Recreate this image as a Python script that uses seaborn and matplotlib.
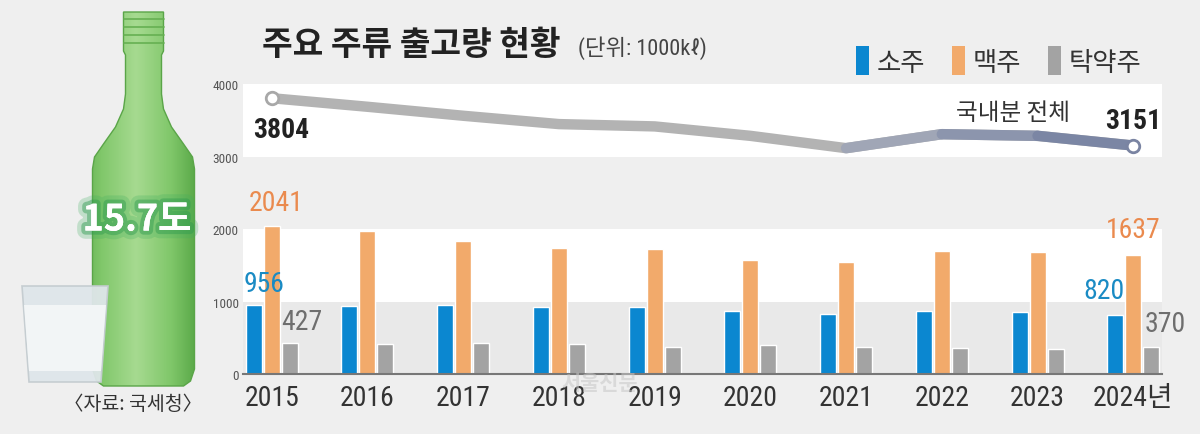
import numpy as np
import pandas as pd
import matplotlib
matplotlib.use("Agg")
import matplotlib.pyplot as plt
import matplotlib.patheffects as pe
from matplotlib.patches import Polygon, Patch
from matplotlib import font_manager
import seaborn as sns

# values (unit: 1000 kl)
years = ['2015', '2016', '2017', '2018', '2019', '2020', '2021', '2022', '2023', '2024']
year_labels = ['2015', '2016', '2017', '2018', '2019', '2020', '2021', '2022', '2023', '2024년']
soju = [956, 938, 952, 920, 920, 869, 823, 874, 855, 820]
beer = [2041, 1972, 1830, 1733, 1720, 1577, 1545, 1701, 1683, 1637]
takju = [427, 409, 428, 409, 377, 405, 377, 359, 340, 370]
total = [3804, 3686, 3562, 3447, 3415, 3285, 3115, 3308, 3285, 3151]
kinds = ['소주', '맥주', '탁약주']

BG = '#efefef'
BLUE, ORANGE, GRAY = '#0b87d0', '#f2aa6b', '#a3a3a3'

sns.set_theme(style='white')

# look for a narrow face for the numbers
fonts = font_manager.fontManager.ttflist
names = {f.name for f in fonts}
NARROW, STRETCH = None, 'normal'
for cand in ['Roboto Condensed', 'Liberation Sans Narrow', 'Open Sans Condensed',
             'DejaVu Sans Condensed', 'Noto Sans Condensed']:
    if cand in names:
        NARROW = cand
        break
if NARROW is None:
    for f in fonts:
        if f.stretch in ('condensed', 'semi-condensed', 'extra-condensed') and f.name in (
                'Roboto', 'Open Sans', 'Noto Sans', 'DejaVu Sans', 'Inter'):
            NARROW, STRETCH = f.name, f.stretch
            break
CONDENSED = NARROW is not None
if NARROW is None:
    NARROW = 'Roboto'
KR = ['Noto Sans CJK KR', 'DejaVu Sans']
NUM = [NARROW, 'Noto Sans CJK KR', 'DejaVu Sans']
plt.rcParams['font.family'] = KR
k = 1.0 if CONDENSED else 0.82  # shrink wide fallback so widths stay close

df = pd.DataFrame({
    'year': years * 3,
    'kind': [kinds[0]] * 10 + [kinds[1]] * 10 + [kinds[2]] * 10,
    'value': soju + beer + takju,
})

fig = plt.figure(figsize=(12, 4.35), dpi=100, facecolor=BG)
ax = fig.add_axes([243 / 1200, 60 / 435, 919 / 1200, 290 / 435])
ax.set_facecolor(BG)

# alternating background bands
ax.axhspan(0, 1000, color='#e9e9e9', zorder=0, lw=0)
ax.axhspan(1000, 2000, color='white', zorder=0, lw=0)
ax.axhspan(3000, 4000, color='white', zorder=0, lw=0)

sns.barplot(data=df, x='year', y='value', hue='kind', hue_order=kinds,
            palette=[BLUE, ORANGE, GRAY], width=0.564, gap=0.11,
            saturation=1, legend=False, ax=ax, zorder=2)

# total line
xs = np.arange(len(years))
sns.lineplot(x=xs, y=total, color='#b3b3b3', lw=7.5, ax=ax, zorder=3,
             solid_capstyle='round', solid_joinstyle='round')
blues = ['#a0a6b6', '#8c95ad', '#7b86a4']
for i, c in zip(range(6, 9), blues):
    ax.plot(xs[i:i + 2], total[i:i + 2], color=c, lw=7.5, zorder=3,
            solid_capstyle='round', solid_joinstyle='round')
ax.plot(xs[0], total[0], 'o', ms=9, mfc='white', mec='#a8a8a8', mew=2, zorder=4)
ax.plot(xs[-1], total[-1], 'o', ms=9, mfc='white', mec='#7a84a2', mew=2, zorder=4)

ax.set_xlim(-0.3, 9.3)
ax.set_ylim(0, 4000)
ax.set_yticks([0, 1000, 2000, 3000, 4000])
ax.set_yticklabels(['0', '1000', '2000', '3000', '4000'], family=NUM, stretch=STRETCH,
                   fontsize=9.5 * k, color='#555555')
ax.set_xticks(xs)
ax.set_xticklabels(year_labels, family=NUM, stretch=STRETCH, fontsize=20 * k, color='#333333')
ax.tick_params(axis='both', length=0)
ax.tick_params(axis='x', pad=7)
ax.tick_params(axis='y', pad=3)
ax.set_xlabel('')
ax.set_ylabel('')
for s in ['top', 'right', 'left']:
    ax.spines[s].set_visible(False)
ax.spines['bottom'].set_color('#777777')
ax.spines['bottom'].set_linewidth(1.5)

# value labels
lab = dict(family=NUM, stretch=STRETCH, fontsize=20 * k, ha='center', va='bottom', zorder=5)
ax.text(-0.08, soju[0] + 100, str(soju[0]), color='#1a8bc4', **lab)
ax.text(0.05, beer[0] + 140, str(beer[0]), color='#ea8a4e', **lab)
ax.text(0.31, takju[0] + 110, str(takju[0]), color='#6e6e6e', **lab)
ax.text(9 - 0.31, soju[-1] + 145, str(soju[-1]), color='#1a8bc4', **lab)
ax.text(9.0, beer[-1] + 170, str(beer[-1]), color='#ea8a4e', **lab)
ax.text(9.33, takju[-1] + 140, str(takju[-1]), color='#6e6e6e', **lab)
tot = dict(family=NUM, stretch=STRETCH, fontsize=20 * k, fontweight='bold', color='#222222',
           ha='center', va='center', zorder=5)
ax.text(0.1, total[0] - 426, str(total[0]), **tot)
ax.text(9.0, total[-1] + 342, str(total[-1]), **tot)
ax.text(7.74, 3613, '국내분 전체', color='#333333', fontsize=17, ha='center', va='center', zorder=5)

# title and legend
fig.text(262 / 1200, 1 - 46 / 435, '주요 주류 출고량 현황', fontsize=24, fontweight='bold',
         color='#222222', ha='left', va='center')
fig.text(578 / 1200, 1 - 48 / 435, '(단위: 1000kℓ)', fontsize=16, color='#444444',
         ha='left', va='center', family=NUM, stretch=STRETCH)
handles = [Patch(facecolor=c, edgecolor='none') for c in [BLUE, ORANGE, GRAY]]
leg = fig.legend(handles, kinds, loc='center right', bbox_to_anchor=(1152 / 1200, 1 - 62 / 435),
                 ncol=3, frameon=False, fontsize=19, handlelength=0.5, handleheight=1.3,
                 handletextpad=0.3, columnspacing=1.0, borderaxespad=0)
for t in leg.get_texts():
    t.set_color('#333333')

# watermark
fig.text(600 / 1200, 1 - 384 / 435, '서울신문', fontsize=15, fontweight='bold',
         color='#c8c8c8', alpha=0.55, ha='center', va='center')

# bottle and glass illustration
bx = fig.add_axes([0, 0, 230 / 1200, 1])
bx.set_xlim(0, 230)
bx.set_ylim(435, 0)
bx.axis('off')
cx = 143.5
half = [(20, 13), (20, 52), (18, 56), (18, 95), (20, 110), (28, 128), (40, 145),
        (49, 158), (51, 170), (51, 370), (47, 382), (40, 387)]
pts = [(cx + dx, y) for dx, y in half] + [(cx - dx, y) for dx, y in half[::-1]]
bottle = Polygon(pts, closed=True, facecolor='none', edgecolor='#5aa548', lw=1, zorder=3)
bx.add_patch(bottle)
grad = np.linspace(0, 1, 200)
shade = 1 - np.abs(grad - 0.42) * 1.5
cmap = matplotlib.colors.LinearSegmentedColormap.from_list('g', ['#4a9c3a', '#80c76a', '#a6da90'])
img = bx.imshow(np.tile(shade, (10, 1)), cmap=cmap, extent=(cx - 52, cx + 52, 390, 10),
                aspect='auto', zorder=2, vmin=0, vmax=1)
img.set_clip_path(bottle)
for y in [20, 28, 36, 44]:
    bx.plot([cx - 20, cx + 20], [y, y], color='#66b052', lw=1.2, zorder=3)

glass = Polygon([(22, 287), (108, 287), (101, 383), (29, 383)], closed=True,
                facecolor='#dfe6ea', edgecolor='#c4ccd0', lw=1.2, zorder=4, alpha=0.95)
bx.add_patch(glass)
bx.add_patch(Polygon([(24, 306), (106, 306), (101, 372), (29, 372)], closed=True,
                     facecolor='#f2f5f6', edgecolor='none', zorder=4))

bx.text(137, 221, '15.7도', fontsize=26, fontweight='bold', color='white',
        ha='center', va='center', zorder=6,
        path_effects=[pe.withStroke(linewidth=12, foreground='#3fae5f', alpha=0.25),
                      pe.withStroke(linewidth=6, foreground='#2f9a4f', alpha=0.45),
                      pe.Normal()])
bx.text(133, 405, '〈자료: 국세청〉', fontsize=14, color='#333333', ha='center', va='center',
        zorder=6)

fig.savefig('out.png', dpi=100, facecolor=BG)
